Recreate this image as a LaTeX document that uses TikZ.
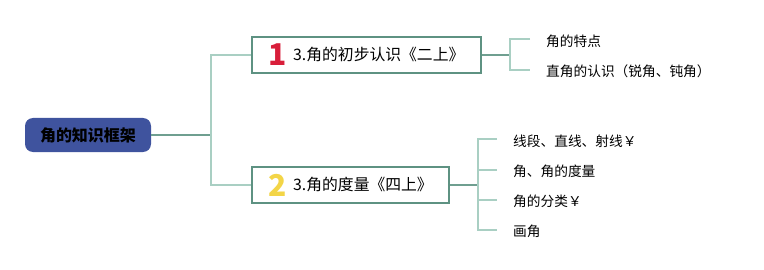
\documentclass[tikz,border=0pt]{standalone}
\usepackage{fontspec}
\setmainfont{Noto Sans CJK SC}
\definecolor{rootblue}{HTML}{3F539E}
\definecolor{boxBorder}{HTML}{5E9282}
\definecolor{lineDark}{HTML}{6F9F90}
\definecolor{lineLight}{HTML}{A9CFC3}
\definecolor{numRed}{HTML}{D81E3A}
\definecolor{numYellow}{HTML}{F3D547}
\begin{document}
\begin{tikzpicture}[x=1pt,y=-1pt,
  dark/.style={draw=lineDark, line width=1.7pt},
  light/.style={draw=lineLight, line width=1.5pt},
  topic/.style={draw=boxBorder, line width=1.7pt, fill=white, minimum height=36pt, inner sep=0pt, anchor=west},
  topictext/.style={anchor=west, inner sep=0pt, font=\fontsize{15.8}{18}\selectfont},
  numeral/.style={inner sep=0pt, font=\bfseries\fontsize{30}{30}\selectfont},
  leaf/.style={anchor=west, inner sep=0pt, font=\fontsize{13.7}{16}\selectfont}]
\useasboundingbox (0,0) rectangle (764,270);
% root
\node[fill=rootblue, rounded corners=8pt, minimum width=126pt, minimum height=34pt, inner sep=0pt,
      font=\bfseries\fontsize{16}{18}\selectfont] (root) at (88,135) {角的知识框架};
% topic boxes
\node[topic, minimum width=229pt] (b1) at (251,55) {};
\node[numeral, text=numRed] (n1) at (278,55) {1};
\node[topictext] (t1) at (293,55) {3.角的初步认识《二上》};
\node[topic, minimum width=197pt] (b2) at (251,185) {};
\node[numeral, text=numYellow] (n2) at (278,185) {2};
\node[topictext] (t2) at (293,185) {3.角的度量《四上》};
% root connectors
\coordinate (j0) at (211,135);
\draw[dark] (root.east) -- (j0);
\draw[light] (b1.west) -| (j0) |- (b2.west);
% branch 1 leaves
\node[leaf] (l11) at (546,41) {角的特点};
\node[leaf] (l12) at (546,71) {直角的认识（锐角、钝角）};
\coordinate (j1) at (510,55);
\coordinate (k11) at (530,39);
\coordinate (k12) at (530,70);
\draw[dark] (b1.east) -- (j1);
\draw[light] (k11) -| (j1) |- (k12);
% branch 2 leaves
\node[leaf] (l21) at (513,141) {线段、直线、射线￥};
\node[leaf] (l22) at (513,171) {角、角的度量};
\node[leaf] (l23) at (513,201) {角的分类￥};
\node[leaf] (l24) at (513,231) {画角};
\coordinate (j2) at (478,185);
\coordinate (k21) at (497,139);
\coordinate (k22) at (497,170);
\coordinate (k23) at (497,200);
\coordinate (k24) at (497,230);
\draw[dark] (b2.east) -- (j2);
\draw[light] (k21) -| (j2) |- (k24);
\draw[light] (j2 |- k22) -- (k22);
\draw[light] (j2 |- k23) -- (k23);
\end{tikzpicture}
\end{document}
